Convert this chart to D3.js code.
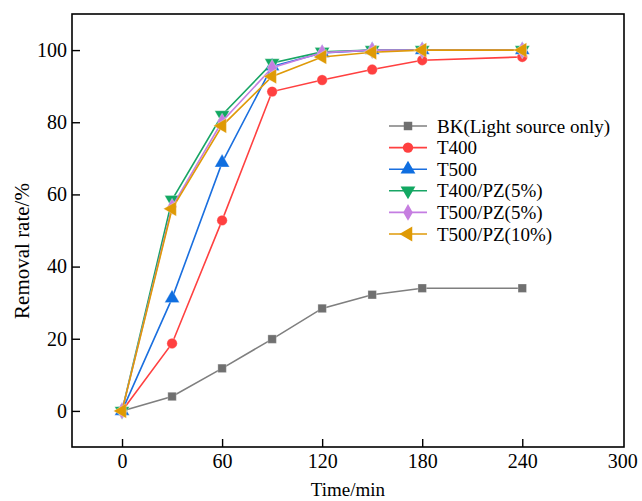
<!DOCTYPE html>
<html>
<head>
<meta charset="utf-8">
<script src="https://cdn.jsdelivr.net/npm/d3@7"></script>
<style>
  body { margin: 0; background: #fff; }
  svg text { font-family: "Times New Roman", "Liberation Serif", "DejaVu Serif", serif; }
</style>
</head>
<body>
<div id="chart"></div>
<script>
// time points (min)
const times = [0, 30, 60, 90, 120, 150, 180, 240]

// removal rate (%) per sample
const bk = [0, 4, 11.8, 19.9, 28.4, 32.2, 34, 34]
const t400 = [0, 18.7, 52.8, 88.5, 91.7, 94.6, 97.2, 98.1]
const t500 = [0, 31.2, 68.8, 95.5, 99.2, 100, 100, 100]
const t400pz5 = [0, 58.5, 82, 96.4, 99.5, 100, 100, 100]
const t500pz5 = [0, 56.6, 80.2, 95.1, 99.3, 100, 100, 100]
const t500pz10 = [0, 56, 79, 92.7, 98.1, 99.4, 100, 100]

const seriesNames = ["BK(Light source only)", "T400", "T500", "T400/PZ(5%)", "T500/PZ(5%)", "T500/PZ(10%)"]
const seriesValues = [bk, t400, t500, t400pz5, t500pz5, t500pz10]

const xTicks = [0, 60, 120, 180, 240, 300]
const yTicks = [0, 20, 40, 60, 80, 100]

// styling
const FONT = "'Times New Roman', 'Liberation Serif', 'DejaVu Serif', serif"
const lineColors = ["#7f7f7f", "#ff4040", "#1a6fdf", "#18a565", "#c47de2", "#df9a08"]
const markColors = ["#707070", "#ff4040", "#0f6ee0", "#12a862", "#c67ee0", "#df9a05"]
const shapes = [d3.symbolSquare, d3.symbolCircle, "up", "down", d3.symbolDiamond, "left"]

const W = 642, H = 501
const margin = {left: 72, right: 18, top: 14, bottom: 54}

const svg = d3.select("#chart").append("svg")
    .attr("width", W)
    .attr("height", H)
    .attr("font-family", FONT)

const x = d3.scaleLinear().domain([-30, 301]).range([margin.left, W - margin.right])
const y = d3.scaleLinear().domain([-10, 110]).range([H - margin.bottom, margin.top])

// frame
svg.append("rect")
    .attr("x", margin.left)
    .attr("y", margin.top)
    .attr("width", W - margin.right - margin.left)
    .attr("height", H - margin.bottom - margin.top)
    .attr("fill", "none")
    .attr("stroke", "#000")
    .attr("stroke-width", 1.6)

// axes, ticks pointing inward
const xAxis = d3.axisBottom(x).tickValues(xTicks).tickSizeInner(-8).tickSizeOuter(0).tickPadding(7)
const yAxis = d3.axisLeft(y).tickValues(yTicks).tickSizeInner(-8).tickSizeOuter(0).tickPadding(5)

const gx = svg.append("g")
    .attr("transform", `translate(0,${H - margin.bottom})`)
    .call(xAxis)
const gy = svg.append("g")
    .attr("transform", `translate(${margin.left},0)`)
    .call(yAxis)

for (const g of [gx, gy]) {
    g.attr("font-family", FONT)
    g.select(".domain").remove()
    g.selectAll(".tick line").attr("stroke", "#000").attr("stroke-width", 1.4)
    g.selectAll(".tick text")
        .attr("fill", "#000")
        .attr("font-size", 20)
}
// 300 sits on the right border, no tick line
gx.selectAll(".tick").filter(d => d === 300).select("line").remove()

svg.append("text")
    .attr("x", (margin.left + W - margin.right) / 2)
    .attr("y", 496)
    .attr("text-anchor", "middle")
    .attr("font-size", 19)
    .text("Time/min")

svg.append("text")
    .attr("transform", "translate(29,251) rotate(-90)")
    .attr("text-anchor", "middle")
    .attr("font-size", 21)
    .text("Removal rate/%")

// marker path helper
function markerPath(shape) {
    if (shape === "up" || shape === "down" || shape === "left") return d3.symbol(d3.symbolTriangle, 95)()
    if (shape === d3.symbolSquare) return d3.symbol(shape, 72)()
    if (shape === d3.symbolDiamond) return d3.symbol(shape, 80)()
    return d3.symbol(shape, 85)()
}
function markerRot(shape) {
    if (shape === "down") return 180
    if (shape === "left") return -90
    return 0
}

const line = d3.line()
    .x(d => x(d[0]))
    .y(d => y(d[1]))

seriesValues.forEach((vals, i) => {
    const pts = times.map((t, j) => [t, vals[j]])
    const g = svg.append("g")
    g.append("path")
        .datum(pts)
        .attr("d", line)
        .attr("fill", "none")
        .attr("stroke", lineColors[i])
        .attr("stroke-width", 1.6)
    g.selectAll("path.mk")
        .data(pts)
        .enter()
        .append("path")
        .attr("class", "mk")
        .attr("d", markerPath(shapes[i]))
        .attr("transform", d => `translate(${x(d[0])},${y(d[1])}) rotate(${markerRot(shapes[i])})`)
        .attr("fill", markColors[i])
        .attr("stroke", "#fff")
        .attr("stroke-opacity", 0.5)
        .attr("stroke-width", 0.6)
})

// legend
const legend = svg.append("g")
    .selectAll("g")
    .data(seriesNames)
    .enter()
    .append("g")
    .attr("transform", (d, i) => `translate(389,${126 + i * 21.6})`)

legend.append("line")
    .attr("x1", 0)
    .attr("x2", 38)
    .attr("stroke", (d, i) => lineColors[i])
    .attr("stroke-width", 1.6)

legend.append("path")
    .attr("d", (d, i) => markerPath(shapes[i]))
    .attr("transform", (d, i) => `translate(19,0) rotate(${markerRot(shapes[i])})`)
    .attr("fill", (d, i) => markColors[i])

legend.append("text")
    .attr("x", 48)
    .attr("y", 0)
    .attr("dy", "0.35em")
    .attr("font-size", 19)
    .text(d => d)
</script>
</body>
</html>
